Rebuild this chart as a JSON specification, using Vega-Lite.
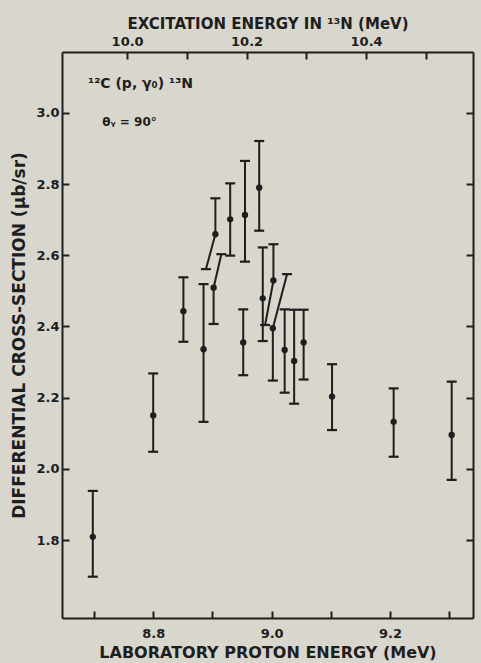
{
  "$schema": "https://vega.github.io/schema/vega-lite/v6.json",
  "width": 411,
  "height": 566,
  "autosize": {"type": "none"},
  "padding": {"left": 62, "top": 52, "right": 8, "bottom": 45},
  "background": "#d8d6cd",
  "config": {
    "view": {"stroke": null},
    "font": "DejaVu Sans",
    "axis": {
      "domainColor": "#1e1e1e",
      "domainWidth": 2,
      "tickColor": "#1e1e1e",
      "tickWidth": 2,
      "tickSize": -7,
      "grid": false,
      "labelColor": "#1e1e1e",
      "labelFont": "DejaVu Sans",
      "labelFontWeight": "bold",
      "labelFontSize": 13,
      "titleColor": "#1e1e1e",
      "titleFont": "DejaVu Sans",
      "titleFontWeight": "bold",
      "titleFontSize": 16
    }
  },
  "datasets": {
    "pts": [
      {"E": 8.698, "v": 1.809, "lo": 1.697, "hi": 1.938, "E_lo": 8.698, "E_hi": 8.698},
      {"E": 8.800, "v": 2.150, "lo": 2.048, "hi": 2.268, "E_lo": 8.800, "E_hi": 8.800},
      {"E": 8.851, "v": 2.443, "lo": 2.357, "hi": 2.538, "E_lo": 8.851, "E_hi": 8.851},
      {"E": 8.885, "v": 2.336, "lo": 2.132, "hi": 2.519, "E_lo": 8.885, "E_hi": 8.885},
      {"E": 8.902, "v": 2.509, "lo": 2.407, "hi": 2.603, "E_lo": 8.902, "E_hi": 8.915},
      {"E": 8.905, "v": 2.659, "lo": 2.561, "hi": 2.760, "E_lo": 8.889, "E_hi": 8.905},
      {"E": 8.930, "v": 2.701, "lo": 2.599, "hi": 2.802, "E_lo": 8.930, "E_hi": 8.930},
      {"E": 8.955, "v": 2.713, "lo": 2.582, "hi": 2.865, "E_lo": 8.955, "E_hi": 8.955},
      {"E": 8.952, "v": 2.355, "lo": 2.263, "hi": 2.448, "E_lo": 8.952, "E_hi": 8.952},
      {"E": 8.979, "v": 2.790, "lo": 2.669, "hi": 2.921, "E_lo": 8.979, "E_hi": 8.979},
      {"E": 8.985, "v": 2.479, "lo": 2.359, "hi": 2.622, "E_lo": 8.985, "E_hi": 8.985},
      {"E": 9.003, "v": 2.529, "lo": 2.404, "hi": 2.631, "E_lo": 8.989, "E_hi": 9.003},
      {"E": 9.002, "v": 2.395, "lo": 2.248, "hi": 2.547, "E_lo": 9.002, "E_hi": 9.026},
      {"E": 9.022, "v": 2.334, "lo": 2.214, "hi": 2.448, "E_lo": 9.022, "E_hi": 9.022},
      {"E": 9.038, "v": 2.303, "lo": 2.183, "hi": 2.447, "E_lo": 9.038, "E_hi": 9.038},
      {"E": 9.054, "v": 2.355, "lo": 2.251, "hi": 2.447, "E_lo": 9.054, "E_hi": 9.054},
      {"E": 9.102, "v": 2.203, "lo": 2.109, "hi": 2.294, "E_lo": 9.102, "E_hi": 9.102},
      {"E": 9.206, "v": 2.132, "lo": 2.034, "hi": 2.226, "E_lo": 9.206, "E_hi": 9.206},
      {"E": 9.304, "v": 2.095, "lo": 1.969, "hi": 2.245, "E_lo": 9.304, "E_hi": 9.304}
    ],
    "notes": [
      {"E": 8.690, "v": 3.080, "label": "¹²C (p, γ₀) ¹³N", "fs": "a"},
      {"E": 8.714, "v": 2.975, "label": "θᵧ = 90°", "fs": "b"}
    ],
    "top": [
      {"Ex": 10.0}, {"Ex": 10.1}, {"Ex": 10.2}, {"Ex": 10.3}, {"Ex": 10.4}, {"Ex": 10.5}
    ]
  },
  "layer": [
    {
      "layer": [
        {
          "data": {"name": "pts"},
          "mark": {"type": "rule", "color": "#1e1e1e", "strokeWidth": 2},
          "encoding": {
            "x": {"field": "E_lo", "type": "quantitative",
                  "scale": {"domain": [8.646, 9.34], "nice": false, "zero": false},
                  "axis": {"values": [8.7, 8.8, 8.9, 9.0, 9.1, 9.2, 9.3], "format": ".1f",
                           "labelExpr": "indexof(['8.8','9.0','9.2'], datum.label) >= 0 ? datum.label : ''",
                           "labelPadding": 16,
                           "title": "LABORATORY  PROTON  ENERGY  (MeV)", "titlePadding": 4}},
            "x2": {"field": "E"},
            "y": {"field": "lo", "type": "quantitative",
                  "scale": {"domain": [1.581, 3.171], "nice": false, "zero": false},
                  "axis": {"values": [1.8, 2.0, 2.2, 2.4, 2.6, 2.8, 3.0], "format": ".1f",
                           "labelPadding": 10, "titleFontSize": 17,
                           "title": "DIFFERENTIAL  CROSS-SECTION  (μb/sr)", "titlePadding": 7}},
            "y2": {"field": "v"}
          }
        },
        {
          "data": {"name": "pts"},
          "mark": {"type": "rule", "color": "#1e1e1e", "strokeWidth": 2},
          "encoding": {
            "x": {"field": "E", "type": "quantitative"},
            "x2": {"field": "E_hi"},
            "y": {"field": "v", "type": "quantitative"},
            "y2": {"field": "hi"}
          }
        },
        {
          "data": {"name": "pts"},
          "mark": {"type": "point", "shape": "M-1,0L1,0", "size": 100, "filled": false, "stroke": "#1e1e1e", "strokeWidth": 2.2, "opacity": 1},
          "encoding": {
            "x": {"field": "E_lo", "type": "quantitative"},
            "y": {"field": "lo", "type": "quantitative"}
          }
        },
        {
          "data": {"name": "pts"},
          "mark": {"type": "point", "shape": "M-1,0L1,0", "size": 100, "filled": false, "stroke": "#1e1e1e", "strokeWidth": 2.2, "opacity": 1},
          "encoding": {
            "x": {"field": "E_hi", "type": "quantitative"},
            "y": {"field": "hi", "type": "quantitative"}
          }
        },
        {
          "data": {"name": "pts"},
          "mark": {"type": "circle", "size": 40, "color": "#1e1e1e", "opacity": 1},
          "encoding": {
            "x": {"field": "E", "type": "quantitative"},
            "y": {"field": "v", "type": "quantitative"}
          }
        },
        {
          "data": {"name": "notes"},
          "transform": [{"filter": "datum.fs == 'a'"}],
          "mark": {"type": "text", "align": "left", "baseline": "middle", "font": "DejaVu Sans", "fontWeight": "bold", "fontSize": 14, "color": "#1e1e1e"},
          "encoding": {
            "x": {"field": "E", "type": "quantitative"},
            "y": {"field": "v", "type": "quantitative"},
            "text": {"field": "label"}
          }
        },
        {
          "data": {"name": "notes"},
          "transform": [{"filter": "datum.fs == 'b'"}],
          "mark": {"type": "text", "align": "left", "baseline": "middle", "font": "DejaVu Sans", "fontWeight": "bold", "fontSize": 12, "color": "#1e1e1e"},
          "encoding": {
            "x": {"field": "E", "type": "quantitative"},
            "y": {"field": "v", "type": "quantitative"},
            "text": {"field": "label"}
          }
        }
      ]
    },
    {
      "data": {"name": "top"},
      "mark": {"type": "point", "opacity": 0},
      "encoding": {
        "x": {"field": "Ex", "type": "quantitative",
              "scale": {"domain": [9.891, 10.579], "nice": false, "zero": false},
              "axis": {"orient": "top", "values": [10.0, 10.1, 10.2, 10.3, 10.4, 10.5], "format": ".1f",
                       "labelExpr": "indexof(['10.0','10.2','10.4'], datum.label) >= 0 ? datum.label : ''",
                       "labelPadding": 11, "titleFontSize": 15,
                       "title": "EXCITATION  ENERGY  IN  ¹³N  (MeV)", "titlePadding": 4}},
        "y": {"datum": 2.0, "type": "quantitative",
              "axis": {"orient": "right", "values": [1.8, 2.0, 2.2, 2.4, 2.6, 2.8, 3.0], "labels": false, "title": null}}
      }
    }
  ],
  "resolve": {"scale": {"x": "independent"}, "axis": {"x": "independent", "y": "independent"}}
}
